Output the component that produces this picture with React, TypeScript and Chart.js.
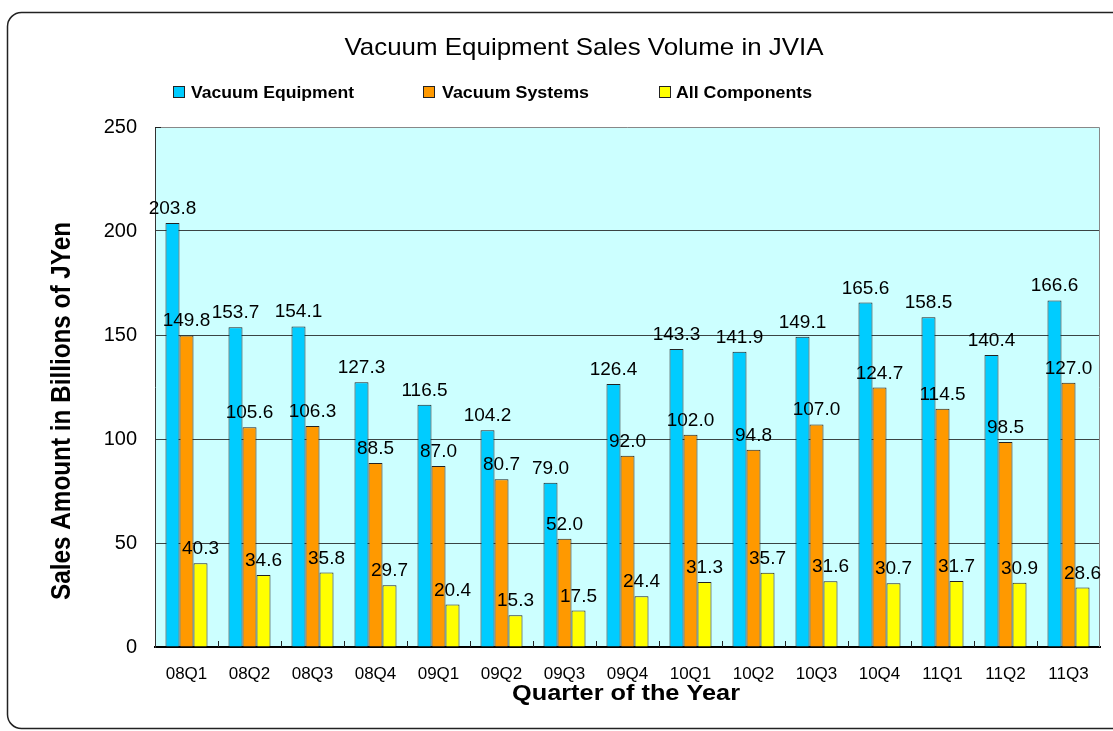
import React, { useEffect, useRef } from "react";
import { Chart, registerables } from "chart.js";

Chart.register(...registerables);

const quarters = ["08Q1", "08Q2", "08Q3", "08Q4", "09Q1", "09Q2", "09Q3", "09Q4", "10Q1", "10Q2", "10Q3", "10Q4", "11Q1", "11Q2", "11Q3"];
const vacuumEquipment = [203.8, 153.7, 154.1, 127.3, 116.5, 104.2, 79.0, 126.4, 143.3, 141.9, 149.1, 165.6, 158.5, 140.4, 166.6];
const vacuumSystems = [149.8, 105.6, 106.3, 88.5, 87.0, 80.7, 52.0, 92.0, 102.0, 94.8, 107.0, 124.7, 114.5, 98.5, 127.0];
const allComponents = [40.3, 34.6, 35.8, 29.7, 20.4, 15.3, 17.5, 24.4, 31.3, 35.7, 31.6, 30.7, 31.7, 30.9, 28.6];
const seriesNames = ["Vacuum Equipment", "Vacuum Systems", "All Components"];
const seriesColors = ["#00CCFF", "#FF9900", "#FFFF00"];
const titleText = "Vacuum Equipment Sales Volume in JVIA";
const yTitle = "Sales Amount in Billions of JYen";
const xTitle = "Quarter of the Year";

const FONT = '"Liberation Sans", Arial, sans-serif';

function fitText(ctx: CanvasRenderingContext2D, text: string, x: number, y: number, width: number, font: string, align: CanvasTextAlign, rotate = false) {
  ctx.save();
  ctx.font = font;
  const w = ctx.measureText(text).width;
  ctx.translate(x, y);
  if (rotate) ctx.rotate(-Math.PI / 2);
  ctx.scale(width / w, 1);
  ctx.textAlign = align;
  ctx.textBaseline = "alphabetic";
  ctx.fillStyle = "#000";
  ctx.fillText(text, 0, 0);
  ctx.restore();
}

const decorPlugin = {
  id: "decor",
  beforeDraw(chart: any) {
    const ctx = chart.ctx as CanvasRenderingContext2D;
    const a = chart.chartArea;
    ctx.save();
    ctx.fillStyle = "#fff";
    ctx.fillRect(0, 0, chart.width, chart.height);
    // outer rounded frame
    ctx.strokeStyle = "#222";
    ctx.lineWidth = 1.5;
    ctx.beginPath();
    (ctx as any).roundRect(7.5, 12.5, 1125, 716, 14);
    ctx.stroke();
    // plot background
    ctx.fillStyle = "#CCFFFF";
    ctx.fillRect(a.left, a.top, a.right - a.left, a.bottom - a.top);
    ctx.restore();
  },
  afterDraw(chart: any) {
    const ctx = chart.ctx as CanvasRenderingContext2D;
    const a = chart.chartArea;
    ctx.save();
    // plot border top/right
    ctx.strokeStyle = "#888";
    ctx.lineWidth = 1;
    ctx.beginPath();
    ctx.moveTo(a.left, a.top + 0.5);
    ctx.lineTo(a.right - 0.5, a.top + 0.5);
    ctx.lineTo(a.right - 0.5, a.bottom);
    ctx.stroke();
    // x tick marks between categories (inside)
    const n = quarters.length;
    const step = (a.right - a.left) / n;
    ctx.beginPath();
    for (let i = 1; i < n; i++) {
      const x = Math.round(a.left + step * i) + 0.5;
      ctx.moveTo(x, a.bottom);
      ctx.lineTo(x, a.bottom - 6);
    }
    ctx.moveTo(a.left, a.top + 0.5);
    ctx.lineTo(a.left + 6, a.top + 0.5);
    ctx.strokeStyle = "#222";
    ctx.stroke();

    // value labels
    ctx.font = `19px ${FONT}`;
    ctx.fillStyle = "#000";
    ctx.textAlign = "center";
    ctx.textBaseline = "alphabetic";
    chart.data.datasets.forEach((ds: any, i: number) => {
      const meta = chart.getDatasetMeta(i);
      meta.data.forEach((el: any, j: number) => {
        ctx.fillText(Number(ds.data[j]).toFixed(1), el.x, el.y - 9);
      });
    });
    ctx.restore();

    // title
    fitText(ctx, titleText, 584, 55, 479, `24px ${FONT}`, "center");
    // legend
    const boxX = [173, 423, 659];
    const textX = [191, 442, 676];
    const textW = [163, 147, 136];
    seriesNames.forEach((name, i) => {
      ctx.save();
      ctx.fillStyle = seriesColors[i];
      ctx.fillRect(boxX[i] + 0.5, 86.5, 11, 11);
      ctx.strokeStyle = "#222";
      ctx.lineWidth = 1;
      ctx.strokeRect(boxX[i] + 0.5, 86.5, 11, 11);
      ctx.restore();
      fitText(ctx, name, textX[i], 98, textW[i], `bold 17px ${FONT}`, "left");
    });
    // axis titles
    fitText(ctx, yTitle, 70, 411, 378, `bold 28px ${FONT}`, "center", true);
    fitText(ctx, xTitle, 626, 700, 228, `bold 22px ${FONT}`, "center");
  },
};

export default function App() {
  const ref = useRef<HTMLCanvasElement>(null);
  useEffect(() => {
    if (!ref.current) return;
    const chart = new Chart(ref.current, {
      type: "bar",
      data: {
        labels: quarters,
        datasets: [vacuumEquipment, vacuumSystems, allComponents].map((d, i) => ({
          label: seriesNames[i],
          data: d,
          backgroundColor: seriesColors[i],
          borderColor: "#222",
          borderWidth: 1,
          categoryPercentage: 0.667,
          barPercentage: 1.0,
        })),
      },
      options: {
        responsive: false,
        animation: false,
        devicePixelRatio: 1,
        layout: { padding: { top: 127, right: 13, left: 0, bottom: 0 } },
        plugins: {
          legend: { display: false },
          title: { display: false },
          tooltip: { enabled: false },
        },
        scales: {
          x: {
            grid: { display: false },
            border: { display: true, color: "#000", width: 2 },
            ticks: { color: "#000", font: { size: 17, family: FONT }, padding: 9, maxRotation: 0, autoSkip: false },
            afterFit: (s: any) => { s.height = 84; },
          },
          y: {
            min: 0,
            max: 250,
            ticks: { stepSize: 50, color: "#000", font: { size: 20, family: FONT }, padding: 18 },
            grid: {
              drawTicks: false,
              lineWidth: 1,
              color: (c: any) => (c.tick && (c.tick.value === 250 || c.tick.value === 0) ? "rgba(0,0,0,0)" : "#3a4444"),
            },
            border: { display: true, color: "#333", width: 1 },
            afterFit: (s: any) => { s.width = 155; },
          },
        },
      },
      plugins: [decorPlugin],
    });
    return () => chart.destroy();
  }, []);
  return (
    <div style={{ position: "fixed", left: 0, top: 0, width: 1113, height: 731 }}>
      <canvas ref={ref} width={1113} height={731} style={{ display: "block" }} />
    </div>
  );
}
